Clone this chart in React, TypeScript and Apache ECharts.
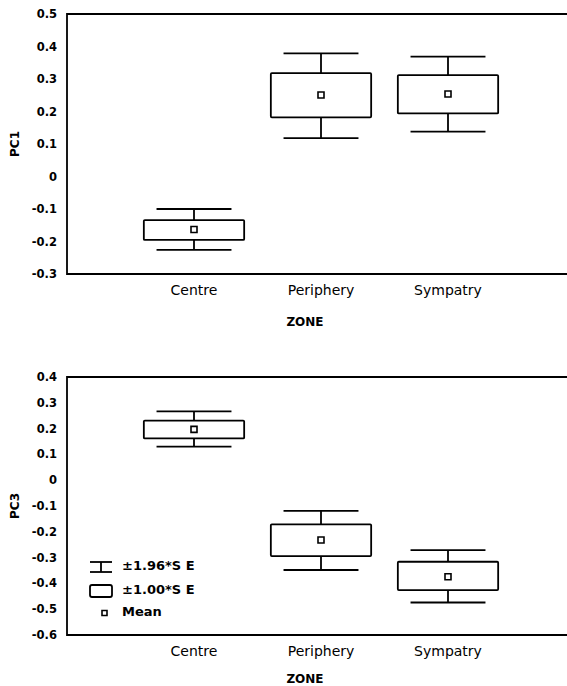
import React, { useEffect, useRef } from "react";
import * as echarts from "echarts";

const categories = ["Centre", "Periphery", "Sympatry"];
// [x, whiskerLow(-1.96SE), boxLow(-1SE), mean, boxHigh(+1SE), whiskerHigh(+1.96SE)]
const pc1Data = [
  [1, -0.226, -0.195, -0.163, -0.134, -0.1],
  [2, 0.118, 0.182, 0.251, 0.318, 0.379],
  [3, 0.138, 0.194, 0.254, 0.312, 0.369],
];
const pc3Data = [
  [1, 0.13, 0.162, 0.197, 0.231, 0.267],
  [2, -0.348, -0.294, -0.232, -0.171, -0.119],
  [3, -0.474, -0.426, -0.374, -0.316, -0.271],
];
const legendLabels = ["±1.96*S E", "±1.00*S E", "Mean"];

const FONT = "DejaVu Sans";
const BOX_W = 0.79;
const CAP_W = 0.59;

function renderBox(params: any, api: any) {
  const x = api.value(0);
  const wl = api.coord([x, api.value(1)]);
  const bl = api.coord([x, api.value(2)]);
  const m = api.coord([x, api.value(3)]);
  const bh = api.coord([x, api.value(4)]);
  const wh = api.coord([x, api.value(5)]);
  const bw = api.size([BOX_W, 0])[0];
  const cw = api.size([CAP_W, 0])[0];
  const cx = m[0];
  const ls = { stroke: "#000", lineWidth: 1.8, fill: "none" };
  return {
    type: "group",
    children: [
      { type: "line", shape: { x1: cx, y1: wh[1], x2: cx, y2: bh[1] }, style: ls },
      { type: "line", shape: { x1: cx, y1: bl[1], x2: cx, y2: wl[1] }, style: ls },
      { type: "line", shape: { x1: cx - cw / 2, y1: wh[1], x2: cx + cw / 2, y2: wh[1] }, style: ls },
      { type: "line", shape: { x1: cx - cw / 2, y1: wl[1], x2: cx + cw / 2, y2: wl[1] }, style: ls },
      {
        type: "rect",
        shape: { x: cx - bw / 2, y: bh[1], width: bw, height: bl[1] - bh[1], r: 1 },
        style: { stroke: "#000", lineWidth: 1.8, fill: "#fff" },
      },
      {
        type: "rect",
        shape: { x: cx - 3, y: m[1] - 3, width: 6, height: 6 },
        style: { stroke: "#000", lineWidth: 1.6, fill: "#fff" },
      },
    ],
  };
}

function yLabel(v: number) {
  if (Math.abs(v) < 1e-9) return "0";
  return v.toFixed(1);
}

export default function App() {
  const ref = useRef<HTMLDivElement>(null);
  useEffect(() => {
    if (!ref.current) return;
    const chart = echarts.init(ref.current, null, { renderer: "svg" });
    const xAxisBase = (gridIndex: number, gap: number) => ({
      type: "value" as const,
      gridIndex,
      min: 0,
      max: 4,
      interval: 1,
      name: "ZONE",
      nameLocation: "middle" as const,
      nameGap: gap,
      nameTextStyle: { fontFamily: FONT, fontWeight: "bold", fontSize: 12, color: "#000", padding: [0, 32, 0, 0] },
      axisLine: { show: false },
      axisTick: { show: false },
      splitLine: { show: false },
      axisLabel: {
        fontFamily: FONT,
        fontSize: 14,
        color: "#000",
        margin: 9,
        formatter: (v: number) => categories[v - 1] ?? "",
      },
    });
    const yAxisBase = (gridIndex: number, name: string, min: number, max: number, gap: number) => ({
      type: "value" as const,
      gridIndex,
      min,
      max,
      interval: 0.1,
      name,
      nameLocation: "middle" as const,
      nameGap: gap,
      nameTextStyle: { fontFamily: FONT, fontWeight: "bold", fontSize: 12, color: "#000" },
      axisLine: { show: false },
      axisTick: { show: false },
      splitLine: { show: false },
      axisLabel: {
        fontFamily: FONT,
        fontWeight: "bold",
        fontSize: 11.5,
        color: "#000",
        margin: 10,
        formatter: yLabel,
      },
    });
    const legX = 90;
    const legTextX = 122;
    const rows = [567, 591, 613];
    const txt = (i: number) => ({
      type: "text",
      left: legTextX,
      top: rows[i] - 8,
      style: { text: legendLabels[i], fontFamily: FONT, fontWeight: "bold", fontSize: 13, fill: "#000" },
    });
    const ls = { stroke: "#000", lineWidth: 1.8 };
    chart.setOption({
      animation: false,
      backgroundColor: "#fff",
      grid: [
        { left: 67, top: 14, width: 508, height: 260, show: true, borderColor: "#000", borderWidth: 1.8 },
        { left: 67, top: 377, width: 508, height: 259, show: true, borderColor: "#000", borderWidth: 1.8 },
      ],
      xAxis: [xAxisBase(0, 42), xAxisBase(1, 38)],
      yAxis: [yAxisBase(0, "PC1", -0.3, 0.5, 40), yAxisBase(1, "PC3", -0.6, 0.4, 44)],
      series: [
        { type: "custom", xAxisIndex: 0, yAxisIndex: 0, renderItem: renderBox, data: pc1Data, encode: { x: 0, y: [1, 5] } },
        { type: "custom", xAxisIndex: 1, yAxisIndex: 1, renderItem: renderBox, data: pc3Data, encode: { x: 0, y: [1, 5] } },
      ],
      graphic: [
        { type: "line", shape: { x1: legX, y1: rows[0] - 5, x2: legX + 22, y2: rows[0] - 5 }, style: ls },
        { type: "line", shape: { x1: legX, y1: rows[0] + 5, x2: legX + 22, y2: rows[0] + 5 }, style: ls },
        { type: "line", shape: { x1: legX + 11, y1: rows[0] - 5, x2: legX + 11, y2: rows[0] + 5 }, style: ls },
        { type: "rect", shape: { x: legX, y: rows[1] - 6, width: 22, height: 12, r: 2 }, style: { stroke: "#000", lineWidth: 1.8, fill: "#fff" } },
        { type: "rect", shape: { x: legX + 12, y: rows[2] - 2.5, width: 5, height: 5 }, style: { stroke: "#000", lineWidth: 1.6, fill: "#fff" } },
        txt(0),
        txt(1),
        txt(2),
      ],
    });
    return () => chart.dispose();
  }, []);
  return (
    <div style={{ position: "absolute", left: 0, top: 0, width: 567, height: 686, overflow: "hidden" }}>
      <div ref={ref} style={{ width: 590, height: 686 }} />
    </div>
  );
}
